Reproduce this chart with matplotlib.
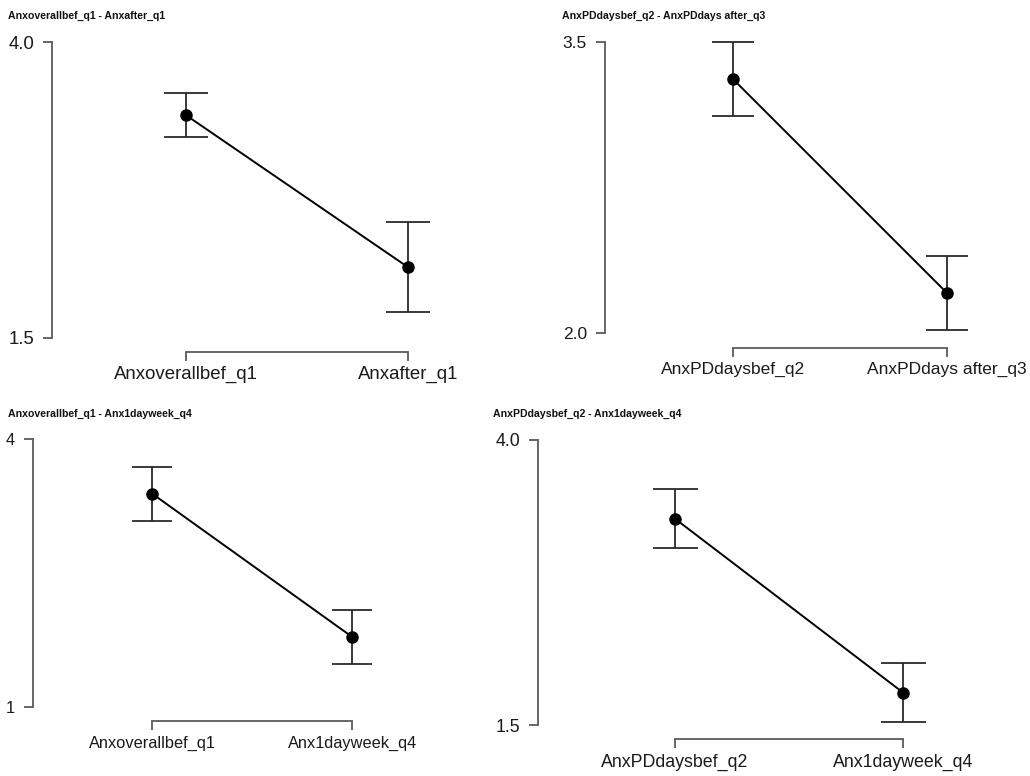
import matplotlib
matplotlib.use("Agg")
import matplotlib.pyplot as plt

plt.rcParams['font.family'] = ['Liberation Sans', 'DejaVu Sans']

# Pairwise means with error bars
titles = [
    "Anxoverallbef_q1 - Anxafter_q1",
    "AnxPDdaysbef_q2 - AnxPDdays after_q3",
    "Anxoverallbef_q1 - Anx1dayweek_q4",
    "AnxPDdaysbef_q2 - Anx1dayweek_q4",
]
categories_1 = ["Anxoverallbef_q1", "Anxafter_q1"]
means_1 = [3.385, 2.095]
errors_1 = [0.19, 0.38]

categories_2 = ["AnxPDdaysbef_q2", "AnxPDdays after_q3"]
means_2 = [3.31, 2.205]
errors_2 = [0.19, 0.19]

categories_3 = ["Anxoverallbef_q1", "Anx1dayweek_q4"]
means_3 = [3.385, 1.785]
errors_3 = [0.30, 0.30]

categories_4 = ["AnxPDdaysbef_q2", "Anx1dayweek_q4"]
means_4 = [3.31, 1.785]
errors_4 = [0.26, 0.26]

yticks_1 = [1.5, 4.0]
ytick_labels_1 = ["1.5", "4.0"]
yticks_2 = [2.0, 3.5]
ytick_labels_2 = ["2.0", "3.5"]
yticks_3 = [1, 4]
ytick_labels_3 = ["1", "4"]
yticks_4 = [1.5, 4.0]
ytick_labels_4 = ["1.5", "4.0"]

W, H = 1030, 776
fig = plt.figure(figsize=(W / 100, H / 100), dpi=100)

# layout in pixels: spine x, top y, bottom y, first/second point x, right edge,
# x-axis offset, label font size, cap half-width
panels = [
    dict(cats=categories_1, m=means_1, e=errors_1, yt=yticks_1, yl=ytick_labels_1,
         L=52.3, T=42.3, B=337.7, p1=185.7, p2=408.3, R=500, off=14, fs=13.4,
         cap=22, tx=8, ty=16),
    dict(cats=categories_2, m=means_2, e=errors_2, yt=yticks_2, yl=ytick_labels_2,
         L=605, T=42.3, B=332.7, p1=733, p2=947, R=1025, off=15, fs=12.5,
         cap=21, tx=562.5, ty=16),
    dict(cats=categories_3, m=means_3, e=errors_3, yt=yticks_3, yl=ytick_labels_3,
         L=33.3, T=438.7, B=707.3, p1=152.3, p2=352.3, R=500, off=13.7, fs=11.8,
         cap=20, tx=8, ty=413.5),
    dict(cats=categories_4, m=means_4, e=errors_4, yt=yticks_4, yl=ytick_labels_4,
         L=538.3, T=440, B=725.3, p1=675, p2=903.3, R=1025, off=14, fs=12.8,
         cap=22.5, tx=493, ty=413.5),
]

spine_col = "#5a5a5a"
for title, p in zip(titles, panels):
    ax = fig.add_axes([p['L'] / W, 1 - p['B'] / H, (p['R'] - p['L']) / W,
                       (p['B'] - p['T']) / H])
    span = p['p2'] - p['p1']
    ax.set_xlim(-(p['p1'] - p['L']) / span, 1 + (p['R'] - p['p2']) / span)
    ax.set_ylim(p['yt'][0], p['yt'][-1])
    ax.patch.set_alpha(0)
    xs = [0, 1]
    ax.plot(xs, p['m'], color='black', lw=1.4, zorder=3, clip_on=False)
    ax.errorbar(xs, p['m'], yerr=p['e'], fmt='none', ecolor='#2a2a2a',
                elinewidth=1.3, capsize=p['cap'] * 0.72, capthick=1.3,
                zorder=2, clip_on=False)
    ax.plot(xs, p['m'], 'o', color='black', ms=8, zorder=4, clip_on=False)

    for s in ('top', 'right'):
        ax.spines[s].set_visible(False)
    ax.spines['left'].set_bounds(p['yt'][0], p['yt'][-1])
    ax.spines['bottom'].set_bounds(0, 1)
    ax.spines['bottom'].set_position(('outward', p['off'] * 0.72))
    for s in ('left', 'bottom'):
        ax.spines[s].set_color(spine_col)
        ax.spines[s].set_linewidth(1.3)

    ax.set_yticks(p['yt'])
    ax.set_yticklabels(p['yl'])
    ax.set_xticks(xs)
    ax.set_xticklabels(p['cats'])
    ax.tick_params(axis='both', colors=spine_col, width=1.3, length=6.5,
                   labelsize=p['fs'], labelcolor='#1a1a1a')
    ax.tick_params(axis='y', pad=6.5)
    ax.tick_params(axis='x', pad=4)

    fig.text(p['tx'] / W, 1 - p['ty'] / H, title, fontsize=7.6, fontweight='bold',
             ha='left', va='center', color='#111111')

fig.savefig("out.png", dpi=100, facecolor='white')
